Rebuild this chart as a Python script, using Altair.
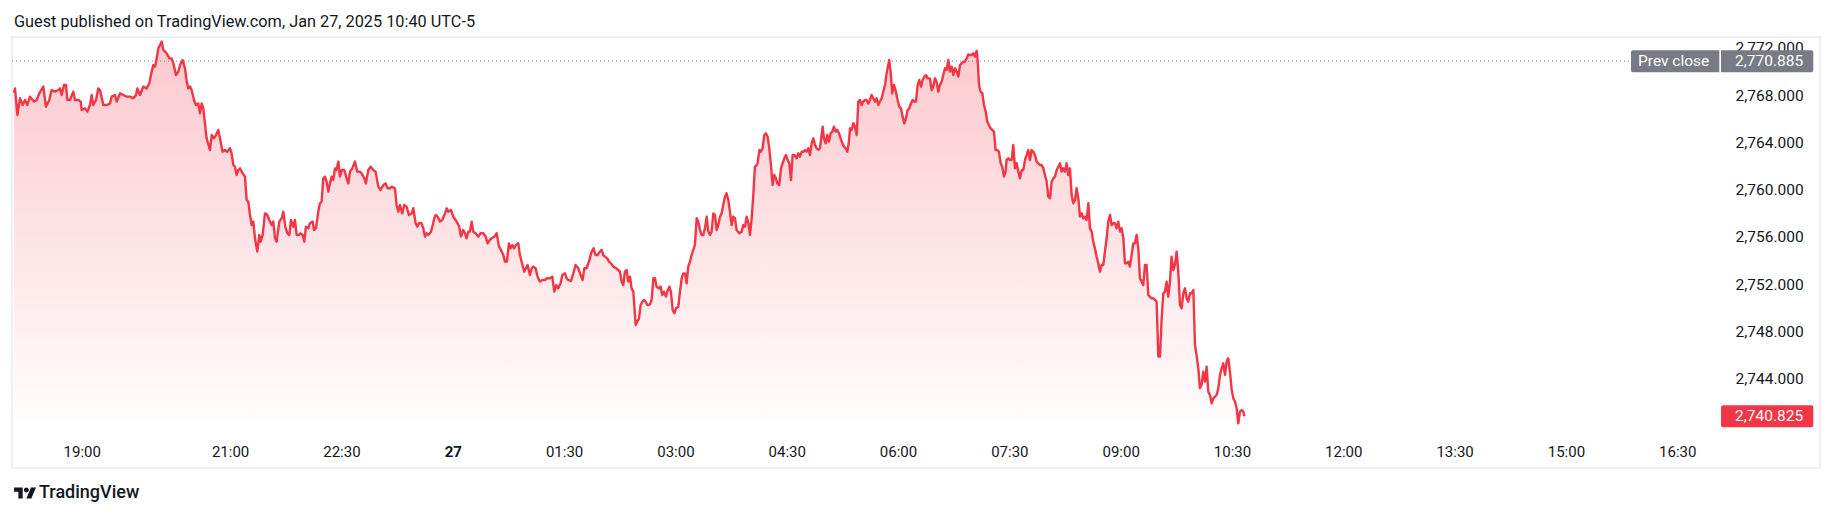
import altair as alt
import pandas as pd

# ---- data (minutes since Jan 26 18:00, XAUUSD price) ----
minutes = [
 5.3, 6.1, 8.0, 10.1, 12.3, 14.2, 16.0, 18.2, 21.4, 23.6, 25.7, 29.0, 31.1, 33.8, 35.7, 38.4, 41.1, 42.5, 43.8, 45.7,
 47.3, 48.4, 50.5, 53.2, 54.6, 57.3, 59.2, 60.0, 62.7, 64.6, 66.7, 68.1, 69.4, 71.6, 73.4, 74.8, 77.5, 80.2, 82.9, 84.2,
 86.9, 88.3, 91.0, 93.7, 96.4, 99.1, 101.8, 103.9, 105.0, 107.1, 109.8, 112.5, 114.7, 116.6, 117.9, 119.3, 120.6, 122.0, 123.3, 124.7,
 126.0, 127.4, 128.7, 130.9, 132.7, 134.1, 136.2, 138.1, 139.5, 141.6, 143.5, 144.9, 146.2, 147.6, 148.9, 150.8, 152.4, 154.3, 155.6, 157.0,
 158.3, 161.0, 163.7, 165.1, 166.9, 168.6, 170.4, 171.8, 173.9, 175.8, 177.7, 179.9, 181.2, 182.6, 183.9, 185.3, 186.6, 188.0, 189.3, 192.0,
 193.4, 194.7, 196.1, 197.4, 198.8, 200.1, 202.0, 203.6, 204.7, 206.3, 208.2, 210.1, 211.7, 213.6, 214.9, 216.3, 217.6, 219.8, 221.7, 223.0,
 224.6, 226.3, 227.9, 229.2, 231.1, 232.4, 233.8, 235.4, 237.0, 238.6, 240.0, 241.3, 243.2, 244.5, 246.7, 247.8, 249.4, 251.3,
 252.6, 254.0, 255.3, 256.7, 258.0, 259.4, 260.7, 262.1, 263.4, 264.8, 266.1, 267.5, 268.8, 270.2, 272.3, 274.2, 275.6, 276.9, 278.8, 280.9,
 282.8, 285.0, 286.3, 288.5, 289.8, 291.7, 293.6, 295.8, 297.6, 299.8, 301.7, 303.9, 305.7, 307.4, 309.2, 310.6, 313.3, 314.6, 316.0, 317.3,
 319.2, 320.8, 322.7, 324.6, 326.8, 328.1, 330.0, 331.3, 332.7, 334.8, 336.2, 337.5, 338.9, 340.2, 342.4, 343.5, 345.1, 346.2, 347.8, 349.7,
 351.5, 353.7, 355.1, 356.4, 358.6, 360.4, 362.3, 363.9, 365.3, 366.6, 368.5, 369.9, 371.2, 372.6, 373.9, 375.3, 376.6, 378.5, 380.7, 382.5,
 384.7, 386.6, 388.2, 389.8, 391.4, 393.6, 395.5, 397.4, 399.0, 400.9, 402.2, 403.8, 405.4, 406.8, 408.2, 409.5, 411.1, 413.0, 414.3, 415.7,
 417.8, 419.2, 420.5, 422.4, 423.8, 425.1, 427.0, 428.6, 430.5, 432.4, 434.6, 436.4, 438.6, 440.5, 442.1, 443.7, 445.3, 447.2, 448.6, 450.7,
 452.1, 453.4, 455.6, 457.5, 459.3, 461.5, 463.4, 465.0, 466.4, 468.2, 470.1, 472.3, 473.9, 475.5, 477.1, 479.0, 480.4, 481.7, 483.1, 484.9,
 486.3, 487.9, 489.8, 492.0, 493.8, 495.2, 496.5, 497.9,
 499.2, 500.6, 501.9, 503.3, 504.6, 506.0, 507.9, 509.2, 510.6, 511.9, 513.3, 514.6, 516.0, 517.3, 519.5, 520.8, 522.2, 523.5, 524.8, 526.7,
 528.1, 529.4, 530.8, 532.4, 533.5, 535.1, 536.4, 537.8, 539.1, 540.5, 542.4, 543.7, 545.1, 546.4, 547.8, 549.1, 550.4, 551.8, 553.1, 554.5,
 555.8, 557.2, 558.5, 559.9, 561.2, 562.6, 563.9, 565.3, 566.6, 568.0, 569.3, 570.7, 572.0, 573.4, 574.7, 576.1, 577.4, 578.7, 580.1, 581.4,
 582.8, 584.1, 585.5, 586.8, 588.2, 589.5, 591.7, 593.6, 594.9, 596.3, 597.6, 599.0, 600.3, 601.7, 603.0, 604.3, 605.7, 606.5, 607.9, 609.2,
 610.5, 611.9, 613.2, 614.6, 615.9, 617.3, 618.6, 620.0, 621.3, 622.4, 624.0, 625.4, 626.7, 628.1, 629.4, 630.8, 632.1, 633.5, 634.8, 636.2,
 638.0, 639.4, 640.7, 642.1, 643.4, 644.8, 646.1, 647.5, 648.8, 650.2, 651.5, 652.9, 654.2, 655.6, 656.9, 659.1, 660.1, 661.5, 662.8, 664.2,
 665.5, 666.9, 668.2, 669.6, 670.9, 672.3, 673.6, 675.0, 676.3, 677.7, 679.0, 680.3, 681.2, 682.5, 683.9, 685.2, 686.6, 687.9, 689.2, 690.6,
 691.9, 693.3, 694.6, 696.0, 697.3, 698.7, 700.0, 701.4, 702.7, 704.1, 705.4, 706.8, 708.1, 709.5, 710.8, 712.1, 712.9, 714.0, 715.4, 716.7,
 718.3, 719.7, 721.0, 722.4, 723.7, 725.1, 726.4, 727.8, 729.1, 730.5, 731.8, 733.2, 734.5, 735.9, 737.2, 738.6, 739.9, 741.3, 742.6, 744.0,
 745.8, 747.2, 748.5, 749.9, 751.2, 752.6, 753.9, 755.3, 756.6, 758.0, 759.3, 760.7, 762.0, 763.4, 764.7, 766.1, 767.4, 768.8, 770.1, 771.4,
 772.8, 774.1, 775.5, 776.8, 778.2, 779.5, 780.9, 782.2, 783.6, 784.4, 785.5, 786.8, 788.2, 789.5, 790.9, 792.2, 793.5, 794.9, 796.2, 797.6,
 798.9, 800.3, 801.6, 803.0, 804.3, 805.7, 807.0, 807.8, 809.2, 810.5, 811.9, 813.2, 814.6, 815.9, 817.3, 818.6, 820.0, 821.3, 822.7, 824.0,
 825.3, 826.7, 828.0, 829.4, 830.7, 832.1, 833.4, 834.8, 836.1, 837.5, 838.8, 840.2, 841.5, 842.9, 844.2, 845.6, 846.9, 848.3, 849.6, 851.0,
 852.3, 853.6, 855.0, 856.3, 857.7, 859.0, 860.4, 861.7, 863.1, 864.4, 865.8, 867.1, 868.5, 869.8, 871.2, 872.5, 873.9, 875.2, 876.6, 877.9,
 879.2, 880.6, 881.9, 883.3, 884.6, 886.0, 887.3, 888.7, 890.0, 891.4, 892.7, 894.1, 895.4, 896.8, 898.1, 899.5, 900.8, 902.2, 903.5, 904.8,
 906.2, 907.5, 908.9, 910.2, 911.6, 912.9, 914.3, 915.6, 917.0, 918.3, 919.7, 921.0, 922.4, 923.7, 925.1, 926.4, 927.8, 929.1, 930.5, 931.8,
 933.1, 934.5, 935.8, 937.2, 938.5, 939.9, 941.2, 942.6, 943.9, 945.3, 946.6, 948.0, 949.3, 950.7, 952.0, 953.4, 954.7, 956.1, 957.4, 958.8,
 960.1, 961.4, 962.8, 964.1, 965.5, 966.8, 968.2, 969.5, 970.9, 972.2, 973.6, 974.9, 976.3, 977.6, 979.0, 980.3, 981.7, 983.0, 984.4, 985.7,
 987.0, 988.4, 989.8, 991.1, 992.5, 993.8, 995.1, 996.5, 997.9, 999.2, 1000.0,
]
prices = [
 2768.20, 2768.58, 2766.33, 2767.74, 2767.17, 2767.60, 2767.17, 2767.88, 2767.46, 2767.60, 2768.16, 2768.73, 2767.03, 2767.60, 2768.44, 2768.30, 2768.44, 2768.58, 2768.02, 2768.87,
 2768.87, 2767.60, 2767.60, 2768.30, 2767.60, 2767.60, 2767.46, 2766.75, 2766.89, 2766.61, 2767.17, 2768.02, 2767.17, 2767.60, 2768.58, 2768.44, 2767.17, 2767.17, 2767.31, 2767.88,
 2768.02, 2767.46, 2768.16, 2768.02, 2767.88, 2767.88, 2767.74, 2768.02, 2768.58, 2768.02, 2768.73, 2768.58, 2769.01, 2770.00, 2770.56, 2770.42, 2771.12, 2771.97, 2772.25, 2772.54,
 2771.83, 2771.69, 2771.55, 2771.12, 2771.12, 2770.70, 2769.71, 2769.99, 2770.56, 2770.98, 2770.28, 2769.15, 2768.58, 2768.73, 2768.44, 2767.60, 2767.17, 2767.31, 2766.47, 2767.31,
 2766.89, 2764.35, 2763.36, 2764.63, 2764.35, 2764.63, 2765.06, 2764.35, 2763.22, 2763.36, 2763.22, 2763.51, 2763.08, 2762.09, 2761.95, 2761.25, 2761.67, 2761.81, 2761.53, 2761.11,
 2759.13, 2758.99, 2757.86, 2757.01, 2757.30, 2755.89, 2754.76, 2756.17, 2755.60, 2756.17, 2758.00, 2757.86, 2757.44, 2757.01, 2757.30, 2755.89, 2755.60, 2757.30, 2757.58, 2758.14,
 2756.87, 2756.31, 2756.17, 2757.44, 2756.87, 2757.44, 2756.17, 2756.17, 2756.31, 2756.17, 2755.60, 2756.87, 2756.73, 2757.16, 2757.30, 2756.59, 2756.73, 2758.14,
 2758.85, 2758.99, 2760.97, 2761.11, 2760.68, 2759.84, 2760.54, 2761.11, 2760.82, 2761.81, 2761.67, 2762.38, 2761.11, 2761.67, 2761.67, 2760.97, 2760.54, 2761.53, 2761.81, 2762.38,
 2761.53, 2761.53, 2761.39, 2760.97, 2760.54, 2761.67, 2761.95, 2761.67, 2761.53, 2760.26, 2759.98, 2760.40, 2760.54, 2760.12, 2760.12, 2760.26, 2760.12, 2758.71, 2758.14, 2758.71,
 2758.00, 2758.71, 2758.57, 2757.86, 2758.00, 2758.43, 2757.16, 2756.87, 2757.16, 2757.16, 2756.73, 2756.03, 2756.31, 2756.17, 2756.45, 2756.87, 2757.58, 2757.86, 2757.72, 2757.30,
 2757.44, 2758.00, 2758.43, 2758.14, 2758.28, 2757.72, 2757.44, 2757.16, 2756.87, 2756.03, 2756.59, 2756.31, 2755.89, 2756.45, 2756.45, 2757.30, 2756.45, 2756.31, 2756.03, 2756.31,
 2756.31, 2756.03, 2755.46, 2755.74, 2755.89, 2756.03, 2756.31, 2755.18, 2754.90, 2754.47, 2753.91, 2753.91, 2755.46, 2755.04, 2755.32, 2755.04, 2755.32, 2755.46, 2754.47, 2753.91,
 2753.06, 2753.35, 2753.63, 2752.78, 2753.35, 2753.49, 2753.35, 2752.64, 2752.22, 2752.36, 2752.36, 2752.50, 2752.50, 2752.64, 2751.37, 2751.93, 2751.65, 2752.08, 2752.78, 2752.92,
 2752.50, 2752.36, 2752.27, 2752.92, 2753.63, 2753.35, 2752.78, 2752.36, 2753.35, 2753.35, 2753.91, 2754.76, 2755.04, 2754.47, 2754.47, 2754.76, 2754.90, 2754.47, 2754.33, 2754.19,
 2753.91, 2753.77, 2753.49, 2753.35, 2753.20, 2753.06, 2752.22, 2751.93,
 2753.06, 2753.20, 2752.22, 2752.64, 2751.65, 2751.37, 2748.55, 2748.83, 2749.11, 2750.24, 2750.52, 2750.67, 2750.52, 2750.24, 2750.30, 2750.67, 2752.50, 2752.50, 2751.79, 2751.65,
 2751.79, 2751.09, 2751.37, 2750.95, 2751.37, 2751.79, 2751.37, 2749.82, 2749.54, 2749.96, 2750.10, 2751.37, 2752.50, 2752.92, 2752.92, 2752.08, 2753.49, 2753.91, 2754.47, 2754.90,
 2755.32, 2757.58, 2757.30, 2756.59, 2756.17, 2756.17, 2756.73, 2757.72, 2756.45, 2756.17, 2756.45, 2758.00, 2757.86, 2756.59, 2757.01, 2757.72, 2758.00, 2758.71, 2759.41, 2759.70,
 2759.13, 2758.14, 2757.01, 2757.72, 2757.58, 2756.59, 2756.31, 2756.45, 2757.01, 2756.87, 2757.72, 2757.16, 2756.17, 2757.58, 2759.55, 2761.95, 2762.09, 2762.24, 2763.36, 2763.22,
 2763.51, 2764.63, 2764.78, 2764.49, 2763.51, 2762.09, 2760.40, 2761.25, 2760.97, 2760.54, 2760.40, 2761.81, 2762.24, 2762.66, 2762.94, 2762.52, 2762.24, 2760.82, 2762.94, 2762.94,
 2762.66, 2763.08, 2762.80, 2763.22, 2763.22, 2763.36, 2763.22, 2763.51, 2762.94, 2763.93, 2764.35, 2763.79, 2763.51, 2763.36, 2763.51, 2765.34, 2764.35, 2763.93, 2764.63, 2764.07,
 2764.78, 2764.92, 2765.34, 2764.92, 2765.06, 2764.78, 2764.35, 2763.93, 2763.65, 2763.51, 2763.22, 2764.07, 2765.20, 2765.06, 2765.62, 2765.34, 2764.63, 2767.46, 2767.60, 2767.17,
 2767.46, 2767.60, 2767.60, 2767.31, 2767.60, 2768.02, 2767.74, 2767.46, 2767.74, 2767.17, 2767.46, 2767.74, 2768.30, 2768.87, 2769.85, 2770.56, 2770.98, 2770.00, 2768.16, 2768.87,
 2768.30, 2767.60, 2767.03, 2766.89, 2766.19, 2765.62, 2766.04, 2766.75, 2766.89, 2767.31, 2767.60, 2767.46, 2767.46, 2768.87, 2769.29, 2768.73, 2769.29, 2769.57, 2769.71, 2769.43,
 2769.43, 2768.44, 2768.73, 2769.43, 2769.15, 2768.30, 2768.87, 2769.15, 2769.71, 2770.28, 2770.14, 2770.98, 2770.00, 2770.42, 2769.71, 2770.28, 2770.00, 2769.57, 2770.56, 2770.70,
 2770.84, 2770.84, 2771.12, 2771.46, 2771.41, 2771.41, 2771.55, 2771.27, 2771.75, 2770.98, 2768.87, 2768.30, 2768.16, 2767.17, 2766.61, 2765.76, 2765.48, 2765.20, 2765.06, 2764.92,
 2763.36, 2763.36, 2763.22, 2762.24, 2761.95, 2761.11, 2761.53, 2762.52, 2762.66, 2762.52, 2762.52, 2763.79, 2761.81, 2762.24, 2761.53, 2760.97, 2761.67, 2761.67, 2762.52, 2762.94,
 2763.36, 2762.52, 2763.36, 2763.22, 2762.94, 2762.38, 2762.24, 2762.09, 2762.09, 2761.81, 2761.25, 2760.68, 2759.41, 2759.27, 2760.68, 2760.97, 2761.11, 2761.67, 2761.95, 2762.24,
 2761.53, 2761.81, 2761.53, 2762.24, 2761.25, 2761.81, 2759.55, 2758.85, 2759.13, 2760.12, 2759.27, 2757.72, 2758.00, 2757.58, 2757.72, 2757.44, 2758.85, 2756.73, 2756.45, 2755.60,
 2755.04, 2754.33, 2753.77, 2753.06, 2753.63, 2753.63, 2754.76, 2755.89, 2757.30, 2757.86, 2757.01, 2757.16, 2757.16, 2756.73, 2757.30, 2756.45, 2756.73, 2755.89, 2753.77, 2753.77,
 2753.91, 2753.49, 2754.47, 2755.46, 2755.46, 2756.17, 2755.04, 2752.50, 2752.22, 2751.93, 2753.63, 2753.63, 2751.09, 2750.95, 2750.81, 2750.81, 2750.67, 2750.52, 2745.87, 2745.87,
 2748.97, 2751.23, 2751.37, 2752.22, 2750.95, 2752.22, 2754.33, 2753.20, 2753.63, 2754.76, 2753.06, 2750.24, 2749.96, 2751.23, 2751.65, 2750.81, 2750.52, 2751.23, 2751.23, 2751.51,
 2746.86, 2746.01, 2744.88, 2743.19, 2743.47, 2744.60, 2743.75, 2745.02, 2742.90, 2742.62, 2741.92, 2742.34, 2742.48, 2742.62, 2743.19, 2744.32, 2744.88, 2745.30, 2744.32, 2745.44,
 2745.73, 2744.60, 2743.05, 2742.34, 2742.06, 2741.49, 2740.22, 2741.21, 2741.35, 2741.21, 2740.825,
]

tick_minutes = [60, 180, 270, 360, 450, 540, 630, 720, 810, 900, 990, 1080, 1170, 1260, 1350]
tick_labels = ["19:00", "21:00", "22:30", "27", "01:30", "03:00", "04:30", "06:00",
               "07:30", "09:00", "10:30", "12:00", "13:30", "15:00", "16:30"]
price_ticks = [2744, 2748, 2752, 2756, 2760, 2764, 2768, 2772]
prev_close = 2770.885
last_price = 2740.825
header = "Guest published on TradingView.com, Jan 27, 2025 10:40 UTC-5"
brand = "TradingView"

# ---- layout ----
W, H = 1708, 401
x_dom = [3.65, 1384.6]
y_dom = [2738.98, 2772.93]
RED = "#f23645"
GRAY = "#787b86"
TXT = "#131722"
FONT = "Roboto"

df = pd.DataFrame({"m": minutes, "p": prices})
one = pd.DataFrame({"k": [0]})

label_expr = " : ".join(f"datum.value == {v} ? '{l}'" for v, l in zip(tick_minutes, tick_labels)) + " : ''"

xs = alt.Scale(domain=x_dom, nice=False, zero=False)
ys = alt.Scale(domain=y_dom, nice=False, zero=False)

x_axis = alt.Axis(
    values=tick_minutes, labelExpr=label_expr, title=None, grid=False, domain=False,
    ticks=False, labelPadding=13, labelBaseline="middle", labelFont=FONT,
    labelFontSize=15, labelColor=TXT, labelFlush=False, labelOverlap=False,
    labelFontWeight={"condition": {"test": "datum.value == 360", "value": "bold"}, "value": "normal"})
y_axis = alt.Axis(
    orient="right", values=price_ticks, format=",.3f", title=None, grid=False,
    domain=False, ticks=False, labelPadding=15, labelAlign="left", labelBaseline="middle",
    labelFont=FONT, labelFontSize=15.5, labelColor=TXT, labelOverlap=False, labelFlush=False)

x_enc = alt.X("m:Q", scale=xs, axis=x_axis, title=None)
y_enc = alt.Y("p:Q", scale=ys, axis=y_axis, title=None)


def ydat(v):
    return alt.YDatum(v, type="quantitative", axis=y_axis, scale=ys, title=None)


def y2dat(v):
    return alt.Y2Datum(v)


base = alt.Chart(df)

area = base.mark_area(
    line=False,
    color=alt.Gradient(
        gradient="linear",
        stops=[alt.GradientStop(color="rgba(242,54,69,0.27)", offset=0),
               alt.GradientStop(color="rgba(242,54,69,0.0)", offset=1)],
        x1=1, x2=1, y1=0, y2=1),
).encode(x=x_enc, y=y_enc, y2=y2dat(y_dom[0]))

prev_line = alt.Chart(one).mark_rule(color=GRAY, strokeDash=[1, 3], strokeWidth=1).encode(
    x=alt.value(0), x2=alt.value(1619), y=ydat(prev_close))

line = base.mark_line(color=RED, strokeWidth=2.4, strokeJoin="round").encode(x=x_enc, y=y_enc)

frame = alt.Chart(one).mark_rect(fillOpacity=0, stroke="#eef0f6", strokeWidth=2).encode(
    x=alt.value(0), x2=alt.value(1808), y=alt.value(0), y2=alt.value(431))

pc_box1 = alt.Chart(one).mark_rect(color=GRAY, yOffset=-11, y2Offset=11,
                                   cornerRadiusTopLeft=2, cornerRadiusBottomLeft=2).encode(
    x=alt.value(1619), x2=alt.value(1707.3), y=ydat(prev_close), y2=y2dat(prev_close))
pc_box2 = alt.Chart(one).mark_rect(color=GRAY, yOffset=-11, y2Offset=11,
                                   cornerRadiusTopRight=2, cornerRadiusBottomRight=2).encode(
    x=alt.value(1709), x2=alt.value(1801.3), y=ydat(prev_close), y2=y2dat(prev_close))
pc_txt1 = alt.Chart(one).mark_text(color="white", font=FONT, fontSize=15.5, align="left",
                                   baseline="middle").encode(
    x=alt.value(1626), y=ydat(prev_close), text=alt.value("Prev close"))
pc_txt2 = alt.Chart(one).mark_text(color="white", font=FONT, fontSize=15.5, align="left",
                                   baseline="middle").encode(
    x=alt.value(1723), y=ydat(prev_close), text=alt.value(f"{prev_close:,.3f}"))

last_box = alt.Chart(one).mark_rect(color=RED, yOffset=-11, y2Offset=11, cornerRadius=2).encode(
    x=alt.value(1709), x2=alt.value(1801.3), y=ydat(last_price), y2=y2dat(last_price))
last_txt = alt.Chart(one).mark_text(color="white", font=FONT, fontSize=15.5, align="left",
                                    baseline="middle").encode(
    x=alt.value(1723), y=ydat(last_price), text=alt.value(f"{last_price:,.3f}"))

head = alt.Chart(one).mark_text(color=TXT, font=FONT, fontSize=16.3, align="left",
                                baseline="middle").encode(
    x=alt.value(2), y=alt.value(-15), text=alt.value(header))

# TradingView logo glyph (normalised path)
logo_path = ("M-0.211,0.507H-0.606V-0.113H-1V-0.507H-0.211Z "
             "M0.577,0.507H0.127L0.549,-0.507H1L0.577,0.507Z "
             "M-0.098,-0.282A0.225,0.225 0 1 0 0.352,-0.282A0.225,0.225 0 1 0 -0.098,-0.282Z")
logo = alt.Chart(one).mark_point(shape=logo_path, filled=True, color=TXT, size=480,
                                 opacity=1, strokeWidth=0).encode(
    x=alt.value(13), y=alt.value(456))
logo_txt = alt.Chart(one).mark_text(color=TXT, font=FONT, fontSize=18, fontWeight=500,
                                    align="left", baseline="middle").encode(
    x=alt.value(27), y=alt.value(456), text=alt.value(brand))

chart = alt.layer(
    frame, area, prev_line, line, pc_box1, pc_box2, pc_txt1, pc_txt2,
    last_box, last_txt, head, logo, logo_txt
).properties(
    width=W, height=H,
    autosize=alt.AutoSizeParams(type="none"),
    padding={"left": 4, "top": 29, "right": 107, "bottom": 66},
    background="white",
).configure(font=FONT).configure_view(stroke=None)

chart.save("out.html", embed_options={"renderer": "svg", "actions": False})
